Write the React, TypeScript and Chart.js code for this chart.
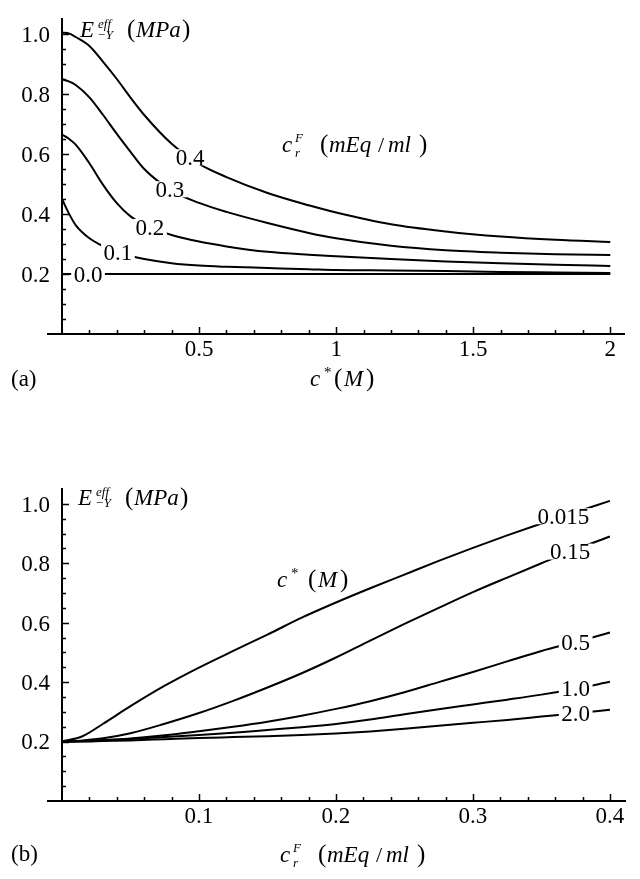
import React, { useEffect, useRef } from 'react';
import { Chart, registerables } from 'chart.js';

Chart.register(...registerables);

const FONT = '"Liberation Serif", "Times New Roman", serif';
const NUM_SIZE = 23;

// ---------- Panel (a): E vs c* for several c_r^F ----------
const A_CSTAR = [0, 0.025, 0.05, 0.1, 0.15, 0.2, 0.25, 0.3, 0.4, 0.5, 0.6, 0.75, 0.9, 1.0, 1.2, 1.4, 1.6, 1.8, 2.0];
const A_SERIES_LABELS = ['0.0', '0.1', '0.2', '0.3', '0.4'];
const A_E_00 = [0.2, 0.2, 0.2, 0.2, 0.2, 0.2, 0.2, 0.2, 0.2, 0.2, 0.2, 0.2, 0.2, 0.2, 0.2, 0.2, 0.2, 0.2, 0.2];
const A_E_01 = [0.45, 0.402, 0.363, 0.319, 0.293, 0.274, 0.26, 0.25, 0.236, 0.228, 0.224, 0.22, 0.216, 0.213, 0.212, 0.21, 0.207, 0.205, 0.203];
const A_E_02 = [0.665, 0.651, 0.631, 0.569, 0.497, 0.436, 0.392, 0.364, 0.33, 0.308, 0.292, 0.274, 0.264, 0.259, 0.25, 0.242, 0.236, 0.231, 0.227];
const A_E_03 = [0.849, 0.842, 0.83, 0.789, 0.73, 0.667, 0.607, 0.55, 0.478, 0.437, 0.407, 0.37, 0.337, 0.319, 0.294, 0.279, 0.271, 0.266, 0.263];
const A_E_04 = [1.005, 1.002, 0.99, 0.96, 0.907, 0.85, 0.788, 0.73, 0.634, 0.567, 0.523, 0.47, 0.429, 0.405, 0.366, 0.342, 0.325, 0.314, 0.307];
const A_LABEL_AT = [0.095, 0.204, 0.321, 0.394, 0.467];
const A_X_TICKS = [0.5, 1, 1.5, 2];
const A_X_TICK_LABELS = ['0.5', '1', '1.5', '2'];

// ---------- Panel (b): E vs c_r^F for several c* ----------
const B_CRF = [0, 0.015, 0.03, 0.05, 0.075, 0.1, 0.125, 0.15, 0.175, 0.2, 0.225, 0.25, 0.275, 0.3, 0.325, 0.35, 0.375, 0.4];
const B_SERIES_LABELS = ['0.015', '0.15', '0.5', '1.0', '2.0'];
const B_E_0015 = [0.2, 0.218, 0.26, 0.319, 0.388, 0.449, 0.505, 0.56, 0.617, 0.668, 0.716, 0.762, 0.808, 0.852, 0.894, 0.934, 0.972, 1.01];
const B_E_015 = [0.2, 0.204, 0.211, 0.228, 0.26, 0.296, 0.337, 0.382, 0.43, 0.483, 0.54, 0.596, 0.65, 0.703, 0.752, 0.8, 0.847, 0.89];
const B_E_05 = [0.2, 0.201, 0.204, 0.21, 0.221, 0.235, 0.25, 0.267, 0.287, 0.31, 0.336, 0.366, 0.4, 0.434, 0.47, 0.505, 0.535, 0.567];
const B_E_10 = [0.2, 0.202, 0.205, 0.209, 0.215, 0.222, 0.23, 0.239, 0.248, 0.259, 0.274, 0.292, 0.309, 0.325, 0.341, 0.358, 0.378, 0.401];
const B_E_20 = [0.2, 0.2, 0.202, 0.204, 0.208, 0.212, 0.215, 0.218, 0.222, 0.227, 0.234, 0.243, 0.253, 0.263, 0.273, 0.284, 0.295, 0.307];
const B_LABEL_AT = [0.366, 0.371, 0.375, 0.375, 0.375];
const B_X_TICKS = [0.1, 0.2, 0.3, 0.4];
const B_X_TICK_LABELS = ['0.1', '0.2', '0.3', '0.4'];

// ---------- shared y ticks ----------
const Y_TICKS = [0.2, 0.4, 0.6, 0.8, 1.0];
const Y_TICK_LABELS = ['0.2', '0.4', '0.6', '0.8', '1.0'];

function steps(a: number, b: number, s: number): number[] {
  const out: number[] = [];
  for (let i = 0; a + i * s <= b + 1e-9; i++) out.push(Math.round((a + i * s) * 10000) / 10000);
  return out;
}

function interp(xs: number[], ys: number[], x: number): number {
  for (let i = 0; i < xs.length - 1; i++) {
    if (x >= xs[i] && x <= xs[i + 1]) {
      const t = (x - xs[i]) / (xs[i + 1] - xs[i]);
      return ys[i] + t * (ys[i + 1] - ys[i]);
    }
  }
  return ys[ys.length - 1];
}

type Run = { t: string; dx: number; dy: number; size: number; it?: boolean };
type Block = { x: number; y: number; runs: Run[] };

const Y_TITLE_RUNS: Run[] = [
  { t: 'E', dx: 0, dy: 0, size: 23, it: true },
  { t: 'eff', dx: 18, dy: -9, size: 13, it: true },
  { t: '\u2212Y', dx: 17, dy: 2, size: 13, it: true },
  { t: '(', dx: 47, dy: 0, size: 25 },
  { t: 'MPa', dx: 56, dy: 0, size: 23, it: true },
  { t: ')', dx: 102, dy: 0, size: 25 },
];
const CRF_RUNS: Run[] = [
  { t: 'c', dx: 0, dy: 0, size: 23, it: true },
  { t: 'F', dx: 13, dy: -10, size: 13, it: true },
  { t: 'r', dx: 13, dy: 5, size: 13, it: true },
  { t: '(', dx: 38, dy: 0, size: 25 },
  { t: 'mEq', dx: 47, dy: 0, size: 23, it: true },
  { t: '/', dx: 96, dy: 0, size: 22 },
  { t: 'ml', dx: 106, dy: 0, size: 23, it: true },
  { t: ')', dx: 137, dy: 0, size: 25 },
];
const CSTAR_RUNS: Run[] = [
  { t: 'c', dx: 0, dy: 0, size: 23, it: true },
  { t: '*', dx: 14, dy: -9, size: 15 },
  { t: '(', dx: 24, dy: 0, size: 25 },
  { t: 'M', dx: 34, dy: 0, size: 23, it: true },
  { t: ')', dx: 56, dy: 0, size: 25 },
];

type PanelCfg = {
  xs: number[];
  series: number[][];
  names: string[];
  labelAt: number[];
  xMin: number;
  xMax: number;
  xTicks: number[];
  xTickLabels: string[];
  xMinor: number[];
  yMinor: number[];
  padding: { left: number; right: number; top: number; bottom: number };
  blocks: Block[];
};

function makeDecor(cfg: PanelCfg) {
  return {
    id: 'decor',
    afterDatasetsDraw(chart: any) {
      const ctx: CanvasRenderingContext2D = chart.ctx;
      const xs = chart.scales.x;
      const ys = chart.scales.y;
      const x0 = xs.getPixelForValue(0);
      const y0 = ys.getPixelForValue(0);
      ctx.save();
      ctx.strokeStyle = '#000';
      ctx.lineWidth = 1.5;
      ctx.beginPath();
      for (const v of cfg.xMinor) {
        const p = Math.round(xs.getPixelForValue(v)) + 0.5;
        ctx.moveTo(p, y0); ctx.lineTo(p, y0 - 4);
      }
      for (const v of cfg.xTicks) {
        const p = Math.round(xs.getPixelForValue(v)) + 0.5;
        ctx.moveTo(p, y0); ctx.lineTo(p, y0 - 7);
      }
      for (const v of cfg.yMinor) {
        const p = Math.round(ys.getPixelForValue(v)) + 0.5;
        ctx.moveTo(x0, p); ctx.lineTo(x0 + 4, p);
      }
      for (const v of Y_TICKS) {
        const p = Math.round(ys.getPixelForValue(v)) + 0.5;
        ctx.moveTo(x0, p); ctx.lineTo(x0 + 7, p);
      }
      ctx.stroke();

      // y tick labels, placed with the y scale
      ctx.fillStyle = '#000';
      ctx.font = `${NUM_SIZE}px ${FONT}`;
      ctx.textAlign = 'right';
      ctx.textBaseline = 'alphabetic';
      Y_TICKS.forEach((v, i) => {
        ctx.fillText(Y_TICK_LABELS[i], x0 - 12, ys.getPixelForValue(v) + 7.8);
      });

      // contour labels on the curves
      ctx.textAlign = 'center';
      cfg.names.forEach((name, i) => {
        const xv = cfg.labelAt[i];
        const px = xs.getPixelForValue(xv);
        const py = ys.getPixelForValue(interp(cfg.xs, cfg.series[i], xv));
        const w = ctx.measureText(name).width + 5;
        ctx.fillStyle = '#fff';
        ctx.fillRect(px - w / 2, py - 8, w, 16);
        ctx.fillStyle = '#000';
        ctx.fillText(name, px, py + 7.8);
      });
      ctx.restore();
    },
    afterDraw(chart: any) {
      const ctx: CanvasRenderingContext2D = chart.ctx;
      ctx.save();
      ctx.fillStyle = '#000';
      ctx.textAlign = 'left';
      ctx.textBaseline = 'alphabetic';
      for (const b of cfg.blocks) {
        for (const r of b.runs) {
          ctx.font = `${r.it ? 'italic ' : ''}${r.size}px ${FONT}`;
          ctx.fillText(r.t, b.x + r.dx, b.y + r.dy);
        }
      }
      ctx.restore();
    },
  };
}

function buildConfig(cfg: PanelCfg): any {
  return {
    type: 'line',
    data: {
      datasets: cfg.series.map((ys, i) => ({
        label: cfg.names[i],
        data: cfg.xs.map((x, j) => ({ x, y: ys[j] })),
        borderColor: '#000',
        borderWidth: 2,
        pointRadius: 0,
        fill: false,
        cubicInterpolationMode: 'monotone',
      })),
    },
    options: {
      responsive: false,
      animation: false,
      devicePixelRatio: 1,
      layout: { padding: cfg.padding },
      plugins: { legend: { display: false }, tooltip: { enabled: false }, title: { display: false } },
      scales: {
        x: {
          type: 'linear',
          min: cfg.xMin,
          max: cfg.xMax,
          position: { y: 0 },
          grid: { display: true, drawOnChartArea: false, drawTicks: false },
          border: { display: true, color: '#000', width: 2 },
          afterBuildTicks: (s: any) => { s.ticks = cfg.xTicks.map((v) => ({ value: v })); },
          afterFit: (s: any) => { s.paddingLeft = 0; s.paddingRight = 0; s.paddingTop = 0; s.paddingBottom = 0; },
          ticks: {
            autoSkip: false,
            maxRotation: 0,
            padding: 2,
            color: '#000',
            font: { family: FONT, size: NUM_SIZE },
            callback: (_v: any, i: number) => cfg.xTickLabels[i],
          },
        },
        y: {
          type: 'linear',
          min: 0,
          max: 1.05,
          position: { x: 0 },
          grid: { display: true, drawOnChartArea: false, drawTicks: false },
          border: { display: true, color: '#000', width: 2 },
          afterBuildTicks: (s: any) => { s.ticks = Y_TICKS.map((v) => ({ value: v })); },
          afterFit: (s: any) => { s.paddingLeft = 0; s.paddingRight = 0; s.paddingTop = 0; s.paddingBottom = 0; },
          ticks: { display: false },
        },
      },
    },
    plugins: [makeDecor(cfg)],
  };
}

const yMinor = steps(0.05, 1.0, 0.05).filter((v) => !Y_TICKS.some((t) => Math.abs(t - v) < 1e-6));

const PANEL_A: PanelCfg = {
  xs: A_CSTAR,
  series: [A_E_00, A_E_01, A_E_02, A_E_03, A_E_04],
  names: A_SERIES_LABELS,
  labelAt: A_LABEL_AT,
  xMin: -0.051,
  xMax: 2.05,
  xTicks: A_X_TICKS,
  xTickLabels: A_X_TICK_LABELS,
  xMinor: steps(0.1, 2.0, 0.1).filter((v) => !A_X_TICKS.some((t) => Math.abs(t - v) < 1e-6)),
  yMinor,
  padding: { left: 48, right: 16, top: 19, bottom: 106 },
  blocks: [
    { x: 80, y: 37, runs: Y_TITLE_RUNS },
    { x: 282, y: 152, runs: CRF_RUNS },
    { x: 310, y: 386, runs: CSTAR_RUNS },
    { x: 11, y: 386, runs: [{ t: '(a)', dx: 0, dy: 0, size: 23 }] },
  ],
};

const PANEL_B: PanelCfg = {
  xs: B_CRF,
  series: [B_E_0015, B_E_015, B_E_05, B_E_10, B_E_20],
  names: B_SERIES_LABELS,
  labelAt: B_LABEL_AT,
  xMin: -0.0102,
  xMax: 0.411,
  xTicks: B_X_TICKS,
  xTickLabels: B_X_TICK_LABELS,
  xMinor: steps(0.02, 0.4, 0.02).filter((v) => !B_X_TICKS.some((t) => Math.abs(t - v) < 1e-6)),
  yMinor,
  padding: { left: 48, right: 15, top: 49, bottom: 78 },
  blocks: [
    { x: 78, y: 65, runs: Y_TITLE_RUNS },
    { x: 277, y: 147, runs: [
      { t: 'c', dx: 0, dy: 0, size: 23, it: true },
      { t: '*', dx: 14, dy: -9, size: 15 },
      { t: '(', dx: 31, dy: 0, size: 25 },
      { t: 'M', dx: 41, dy: 0, size: 23, it: true },
      { t: ')', dx: 63, dy: 0, size: 25 },
    ] },
    { x: 280, y: 422, runs: CRF_RUNS },
    { x: 11, y: 421, runs: [{ t: '(b)', dx: 0, dy: 0, size: 23 }] },
  ],
};

export default function App() {
  const refA = useRef<HTMLCanvasElement>(null);
  const refB = useRef<HTMLCanvasElement>(null);
  useEffect(() => {
    const a = new Chart(refA.current as HTMLCanvasElement, buildConfig(PANEL_A));
    const b = new Chart(refB.current as HTMLCanvasElement, buildConfig(PANEL_B));
    return () => {
      a.destroy();
      b.destroy();
    };
  }, []);
  return (
    <div style={{ position: 'absolute', left: 0, top: 0, width: 640, height: 879, background: '#fff' }}>
      <canvas ref={refA} width={640} height={440} style={{ position: 'absolute', left: 0, top: 0 }} />
      <canvas ref={refB} width={640} height={439} style={{ position: 'absolute', left: 0, top: 440 }} />
    </div>
  );
}
